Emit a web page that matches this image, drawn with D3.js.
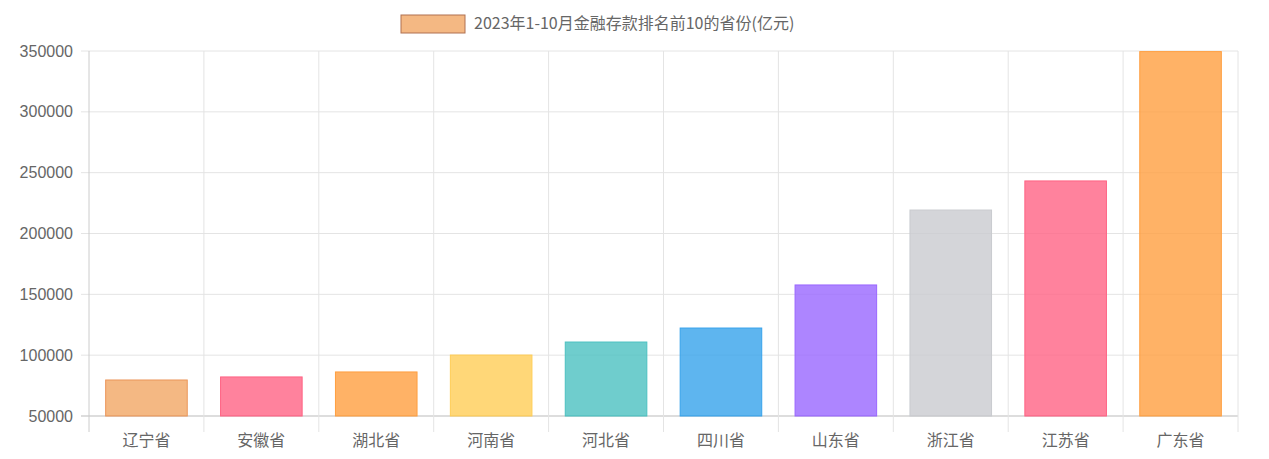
<!DOCTYPE html>
<html><head><meta charset="utf-8">
<script src="https://cdn.jsdelivr.net/npm/d3@7"></script>
<style>body{margin:0;background:#fff;font-family:"Noto Sans CJK SC",sans-serif}</style>
</head><body><svg id="chart" width="1269" height="459"></svg>
<script>
// chart data
const provinces = ['辽宁省', '安徽省', '湖北省', '河南省', '河北省', '四川省', '山东省', '浙江省', '江苏省', '广东省'];
const deposits = [79600, 82100, 86200, 100100, 110800, 122300, 157700, 219300, 243200, 349500];
const yTicks = [50000, 100000, 150000, 200000, 250000, 300000, 350000];
const fills = ['rgba(240,160,90,0.75)', 'rgba(255,99,132,0.8)', 'rgba(255,159,64,0.8)', 'rgba(255,205,86,0.8)',
  'rgba(75,192,192,0.8)', 'rgba(54,162,235,0.8)', 'rgba(153,102,255,0.8)', 'rgba(201,203,207,0.8)',
  'rgba(255,99,132,0.8)', 'rgba(255,159,64,0.8)'];
const strokes = ['rgb(235,150,90)', 'rgb(255,99,132)', 'rgb(255,159,64)', 'rgb(255,205,86)', 'rgb(75,192,192)',
  'rgb(54,162,235)', 'rgb(153,102,255)', 'rgb(201,203,207)', 'rgb(255,99,132)', 'rgb(255,159,64)'];
const title = '2023年1-10月金融存款排名前10的省份(亿元)';

const svg = d3.select('#chart');
const plotLeft = 89, plotRight = 1238, plotTop = 51, plotBottom = 416;

const x = d3.scaleBand().domain(provinces).range([plotLeft, plotRight]).paddingInner(0.29).paddingOuter(0.145);
const y = d3.scaleLinear().domain([50000, 350000]).range([plotBottom, plotTop]);
const step = x.step();

// horizontal grid + y labels
yTicks.forEach(t => {
  svg.append('line').attr('x1', plotLeft - 8).attr('x2', plotRight).attr('y1', y(t)).attr('y2', y(t))
    .attr('stroke', t === 50000 ? '#bbb' : '#e4e4e4');
  svg.append('text').attr('x', 73).attr('y', y(t)).attr('dy', '0.35em').attr('text-anchor', 'end')
    .attr('font-size', 16).attr('fill', '#666').attr('font-family', 'Arial, Liberation Sans').text(t);
});

// vertical grid at band edges
d3.range(provinces.length + 1).forEach(i => {
  const gx = plotLeft + i * step;
  svg.append('line').attr('x1', gx).attr('x2', gx).attr('y1', plotTop).attr('y2', plotBottom + 16)
    .attr('stroke', i === 0 ? '#ccc' : '#e4e4e4');
});

// bars
svg.selectAll('rect.bar').data(provinces).join('rect').attr('class', 'bar')
  .attr('x', d => x(d)).attr('width', x.bandwidth())
  .attr('y', (d, i) => y(deposits[i])).attr('height', (d, i) => plotBottom - y(deposits[i]))
  .attr('fill', (d, i) => fills[i]).attr('stroke', (d, i) => strokes[i]).attr('stroke-width', 1);

// x labels
provinces.forEach(p => {
  svg.append('text').attr('x', x(p) + x.bandwidth() / 2).attr('y', 446).attr('text-anchor', 'middle')
    .attr('font-size', 16).attr('fill', '#666').text(p);
});

// legend
svg.append('rect').attr('x', 401).attr('y', 15).attr('width', 64).attr('height', 18)
  .attr('fill', fills[0]).attr('stroke', '#b07050');
svg.append('text').attr('x', 474).attr('y', 29).attr('font-size', 16).attr('fill', '#666').text(title);
</script></body></html>
